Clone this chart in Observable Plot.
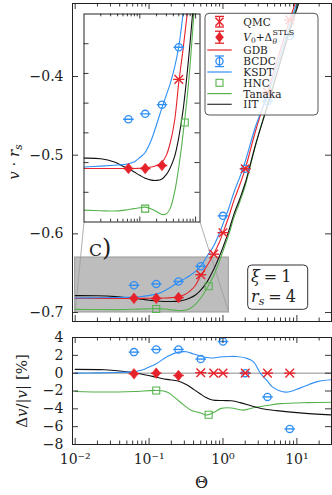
<!DOCTYPE html>
<html><head><meta charset="utf-8">
<script src="https://cdn.jsdelivr.net/npm/d3@7"></script>
<script src="https://cdn.jsdelivr.net/npm/@observablehq/plot@0.6"></script>
<style>
body{margin:0;background:#fff;}
#wrap{position:relative;width:332px;height:495px;overflow:hidden;font-family:"DejaVu Serif",serif;}
#wrap svg{position:absolute;}
</style></head><body><div id="wrap"></div>
<script>
// ---------- data ----------
const thetaGrid = [0.01,0.02,0.035,0.05,0.0625,0.08,0.1,0.125,0.16,0.2,0.25,0.3,0.35,0.42,0.5,0.6,0.75,0.9,1.0,1.2,1.4,1.7,2.0,2.8,4.0,5.6,8.0,11,16,22,32];
const gdbV    = [-0.6820,-0.6820,-0.6820,-0.6820,-0.6820,-0.6820,-0.6819,-0.6818,-0.6815,-0.6810,-0.6799,-0.6775,-0.6735,-0.6660,-0.6530,-0.6415,-0.6255,-0.6100,-0.5985,-0.5780,-0.5580,-0.5370,-0.5173,-0.4670,-0.4203,-0.3750,-0.3280,-0.2900,-0.2550,-0.2250,-0.1950];
const ksdtV   = [-0.6815,-0.6812,-0.6809,-0.6807,-0.6804,-0.6797,-0.6783,-0.6766,-0.6725,-0.6672,-0.6615,-0.6572,-0.6535,-0.6480,-0.6410,-0.6295,-0.6150,-0.5985,-0.5875,-0.5672,-0.5477,-0.5272,-0.5080,-0.4617,-0.4241,-0.3821,-0.3349,-0.2948,-0.2581,-0.2270,-0.1965];
const tanakaV = [-0.6960,-0.6962,-0.6963,-0.6961,-0.6958,-0.6955,-0.6952,-0.6950,-0.6956,-0.6965,-0.6975,-0.6972,-0.6955,-0.6900,-0.6815,-0.6700,-0.6530,-0.6340,-0.6220,-0.6005,-0.5800,-0.5585,-0.5385,-0.4852,-0.4356,-0.3880,-0.3392,-0.2997,-0.2634,-0.2323,-0.2014];
const iitV    = [-0.6785,-0.6787,-0.6798,-0.6812,-0.6820,-0.6832,-0.6843,-0.6853,-0.6859,-0.6860,-0.6855,-0.6840,-0.6818,-0.6780,-0.6715,-0.6620,-0.6450,-0.6280,-0.6170,-0.5958,-0.5756,-0.5547,-0.5354,-0.4845,-0.4373,-0.3907,-0.3421,-0.3030,-0.2667,-0.2354,-0.2041];

// relative deviations (lower panel), in %
const ksdtDevTheta = [0.01,0.02,0.035,0.05,0.0625,0.08,0.095,0.125,0.177,0.25,0.32,0.4,0.49,0.6,0.72,0.9,1.2,1.5,2.03,2.57,3.2,4.0,4.7,7.1,11.2,19,31.6];
const ksdtDev      = [0,0.03,0.08,0.12,0.15,0.35,0.6,1.05,1.88,2.36,2.4,2.15,1.95,1.75,1.7,1.82,1.87,1.87,1.7,1.3,0,-0.9,-1.57,-2.13,-1.65,-0.95,-0.72];
const iitDevTheta  = [0.01,0.025,0.04,0.0625,0.09,0.125,0.174,0.247,0.323,0.406,0.49,0.58,0.72,1.0,1.3,1.7,2.5,3.4,5.3,11,31.6];
const iitDev       = [0.42,0.38,0.25,0.04,-0.2,-0.45,-0.7,-0.88,-1.3,-1.85,-2.3,-2.7,-3.0,-3.07,-3.1,-3.3,-3.7,-4.0,-4.2,-4.45,-4.7];
const tanakaDevTheta = [0.01,0.025,0.0625,0.125,0.177,0.26,0.37,0.49,0.6,0.75,0.95,1.3,1.85,2.5,3.8,6,14,31.6];
const tanakaDev      = [-2.06,-2.12,-2.06,-1.94,-2.13,-3.2,-4.15,-4.45,-4.7,-4.4,-3.95,-3.9,-4.15,-3.9,-3.65,-3.42,-3.3,-3.26];

const qmcTheta  = [0.5,0.75,1,2,4,8];
const qmcV      = [-0.6520,-0.6258,-0.5985,-0.5173,-0.4203,-0.3280];
const qmcDev    = [0.05,0,0,0,0,0];
const stlsTheta = [0.0625,0.125,0.25];
const stlsV     = [-0.6820,-0.6820,-0.6810];
const stlsDev   = [-0.07,0,-0.26];
const bcdcTheta = [0.0625,0.125,0.25,0.5,1,2,4,8];
const bcdcV     = [-0.6654,-0.6636,-0.6605,-0.6412,-0.5771,-0.5173,-0.4316,-0.3485];
const bcdcDev   = [2.36,2.66,2.66,1.58,3.55,0,-2.66,-6.25];
const hncTheta  = [0.125,0.64];
const hncV      = [-0.6955,-0.6665];
const hncDev    = [-1.94,-4.67];

const xMajor = [0.01,0.1,1,10];
const xTickLabels = ["10⁻²","10⁻¹","10⁰","10¹"];
const mainYTicks = [-0.7,-0.6,-0.5,-0.4];
const mainYLabels = ["−0.7","−0.6","−0.5","−0.4"];
const lowerYTicks = [-8,-6,-4,-2,0,2,4];
const lowerYLabels = ["−8","−6","−4","−2","0","2","4"];
const insetYTicks = [-0.69,-0.68,-0.67,-0.66,-0.65,-0.64];
const legendNames = ["QMC","V0+Δ","GDB","BCDC","KSDT","HNC","Tanaka","IIT"];

// ---------- layout / style ----------
const font = "DejaVu Serif";
const red = "#e6222a", blue = "#2f8ff5", green = "#55b24c", black = "#111", axisC = "#222";
const xDomain = [0.0092, 29.4];
const mainYDomain = [-0.7114, -0.3072];
const insetX = [0.01, 1.2];
const insetY = [-0.700, -0.630];
const inset = {left: 83, top: 13, width: 117, height: 209, m: 0.5};

const rows = (ts, vs, ds) => ts.map((t, i) => ({t, v: vs[i], d: ds ? ds[i] : null}));
const gdbRows = rows(thetaGrid, gdbV), ksdtRows = rows(thetaGrid, ksdtV),
      tanakaRows = rows(thetaGrid, tanakaV), iitRows = rows(thetaGrid, iitV);
const ksdtDevRows = rows(ksdtDevTheta, ksdtDev), iitDevRows = rows(iitDevTheta, iitDev),
      tanakaDevRows = rows(tanakaDevTheta, tanakaDev);
const qmcRows = rows(qmcTheta, qmcV, qmcDev), stlsRows = rows(stlsTheta, stlsV, stlsDev),
      bcdcRows = rows(bcdcTheta, bcdcV, bcdcDev), hncRows = rows(hncTheta, hncV, hncDev);

// custom symbols (size = pi r^2)
const R = s => Math.sqrt(s / Math.PI);
const hbar = {draw(c, s){const r = R(s); c.moveTo(-r, 0); c.lineTo(r, 0);}};
const xmark = {draw(c, s){const r = R(s); c.moveTo(-r, -r); c.lineTo(r, r); c.moveTo(-r, r); c.lineTo(r, -r);}};
const diam = {draw(c, s){const r = R(s); c.moveTo(0, -r); c.lineTo(0.8*r, 0); c.lineTo(0, r); c.lineTo(-0.8*r, 0); c.closePath();}};
const sq = {draw(c, s){const r = R(s); c.rect(-r, -r, 2*r, 2*r);}};

const minorX = (lo, hi) => [0.001,0.01,0.1,1,10].flatMap(b => [2,3,4,5,6,7,8,9].map(m => +(b*m).toPrecision(3))).filter(v => v > lo && v < hi);
const majorIn = (lo, hi) => [0.001,0.01,0.1,1,10,100].filter(v => v >= lo && v <= hi);

function frameTicks(xMaj, xMin, yMaj, fw, fh, L) {
  const st = {stroke: axisC, strokeWidth: 0.9};
  return [
    Plot.tickX(xMaj, {x: d => d, insetTop: fh - L.xMaj, ...st}),
    Plot.tickX(xMaj, {x: d => d, insetBottom: fh - L.xMaj, ...st}),
    Plot.tickX(xMin, {x: d => d, insetTop: fh - L.xMin, ...st}),
    Plot.tickX(xMin, {x: d => d, insetBottom: fh - L.xMin, ...st}),
    Plot.tickY(yMaj, {y: d => d, insetRight: fw - L.y, ...st}),
    Plot.tickY(yMaj, {y: d => d, insetLeft: fw - L.y, ...st})
  ];
}
const lineOpts = c => ({x: "t", y: "v", stroke: c, strokeWidth: 1.1, curve: "catmull-rom", clip: true});
function pointMarks(yk) {
  return [
    Plot.dot(hncRows, {x: "t", y: yk, symbol: sq, r: 3.5, stroke: green, fill: "none", strokeWidth: 1.1, clip: true}),
    Plot.dot(bcdcRows, {x: "t", y: yk, symbol: "circle", r: 3.6, stroke: blue, fill: "none", strokeWidth: 1.3, clip: true}),
    Plot.dot(bcdcRows, {x: "t", y: yk, symbol: hbar, r: 5.3, stroke: blue, strokeWidth: 1.4, clip: true}),
    Plot.dot(stlsRows, {x: "t", y: yk, symbol: diam, r: 5.3, fill: red, stroke: red, strokeWidth: 0.6, clip: true}),
    Plot.dot(stlsRows, {x: "t", y: yk, symbol: hbar, r: 5.3, stroke: red, strokeWidth: 1.4, clip: true}),
    Plot.dot(qmcRows, {x: "t", y: yk, symbol: xmark, r: 4.3, stroke: red, strokeWidth: 1.4, clip: true}),
    Plot.dot(qmcRows, {x: "t", y: yk, symbol: hbar, r: 5.5, stroke: red, strokeWidth: 1.4, clip: true})
  ];
}
const baseStyle = {fontFamily: font, fontSize: "14px", color: axisC, background: "transparent", overflow: "visible"};
const wrap = document.getElementById("wrap");

// ---------- main panel ----------
const M = {width: 332, height: 330, left: 72, right: 1, top: 3, bottom: 9};
const mfw = M.width - M.left - M.right, mfh = M.height - M.top - M.bottom;
const mxs = Plot.scale({x: {type: "log", domain: xDomain, range: [M.left, M.width - M.right]}});
const mys = Plot.scale({y: {type: "linear", domain: mainYDomain, range: [M.height - M.bottom, M.top]}});
const iL = inset.left + inset.m, iR = inset.left + inset.width - inset.m, iB = inset.top + inset.height - inset.m;
const connectors = [
  {x1: insetX[0], y1: insetY[0], x2: mxs.invert(iL), y2: mys.invert(iB)},
  {x1: insetX[1], y1: insetY[0], x2: mxs.invert(iR), y2: mys.invert(iB)}
];
const main = Plot.plot({
  width: M.width, height: M.height, marginLeft: M.left, marginRight: M.right, marginTop: M.top, marginBottom: M.bottom,
  style: baseStyle,
  x: {type: "log", domain: xDomain, axis: null, label: null},
  y: {domain: mainYDomain, label: null},
  marks: [
    Plot.rect([0], {x1: () => insetX[0], x2: () => insetX[1], y1: () => insetY[0], y2: () => insetY[1], fill: "#bdbdbd", stroke: "#8a8a8a", strokeWidth: 0.8}),
    Plot.link(connectors, {x1: "x1", y1: "y1", x2: "x2", y2: "y2", stroke: "#9a9a9a", strokeWidth: 0.8}),
    Plot.line(tanakaRows, lineOpts(green)),
    Plot.line(iitRows, lineOpts(black)),
    Plot.line(gdbRows, lineOpts(red)),
    Plot.line(ksdtRows, lineOpts(blue)),
    ...pointMarks("v"),
    ...frameTicks(majorIn(xDomain[0], xDomain[1]), minorX(xDomain[0], xDomain[1]), mainYTicks, mfw, mfh, {xMaj: 6, xMin: 3.5, y: 6}),
    Plot.frame({stroke: axisC, strokeWidth: 1}),
    Plot.axisY({ticks: mainYTicks, tickSize: 0, tickPadding: 9, label: null, tickFormat: d => mainYLabels[mainYTicks.indexOf(d)]})
  ]
});
main.style.left = "0px"; main.style.top = "0px";
wrap.appendChild(main);

// ---------- inset ----------
const ifw = inset.width - 2*inset.m, ifh = inset.height - 2*inset.m;
const ins = Plot.plot({
  width: inset.width, height: inset.height, marginLeft: inset.m, marginRight: inset.m, marginTop: inset.m, marginBottom: inset.m,
  style: {...baseStyle, background: "white"},
  x: {type: "log", domain: insetX, axis: null, label: null},
  y: {domain: insetY, axis: null, label: null},
  marks: [
    Plot.line(tanakaRows, lineOpts(green)),
    Plot.line(iitRows, lineOpts(black)),
    Plot.line(gdbRows, lineOpts(red)),
    Plot.line(ksdtRows, lineOpts(blue)),
    ...pointMarks("v"),
    ...frameTicks(majorIn(insetX[0]*1.01, insetX[1]), minorX(insetX[0], insetX[1]), insetYTicks, ifw, ifh, {xMaj: 5, xMin: 2.8, y: 5}),
    Plot.frame({stroke: axisC, strokeWidth: 1})
  ]
});
ins.style.left = inset.left + "px"; ins.style.top = inset.top + "px";
wrap.appendChild(ins);

// ---------- lower panel ----------
const Lw = {width: 332, height: 165, left: 72, right: 1, top: 7, bottom: 51, y0: 330};
const lfw = Lw.width - Lw.left - Lw.right, lfh = Lw.height - Lw.top - Lw.bottom;
const lower = Plot.plot({
  width: Lw.width, height: Lw.height, marginLeft: Lw.left, marginRight: Lw.right, marginTop: Lw.top, marginBottom: Lw.bottom,
  style: baseStyle,
  x: {type: "log", domain: xDomain, label: null},
  y: {domain: [-8, 4], label: null},
  marks: [
    Plot.ruleY([0], {stroke: "#8c8c8c", strokeWidth: 1}),
    Plot.line(tanakaDevRows, lineOpts(green)),
    Plot.line(iitDevRows, lineOpts(black)),
    Plot.line(ksdtDevRows, lineOpts(blue)),
    ...pointMarks("d"),
    ...frameTicks(majorIn(xDomain[0], xDomain[1]), minorX(xDomain[0], xDomain[1]), lowerYTicks, lfw, lfh, {xMaj: 6, xMin: 3.5, y: 6}),
    Plot.frame({stroke: axisC, strokeWidth: 1}),
    Plot.axisY({ticks: lowerYTicks, tickSize: 0, tickPadding: 9, label: null, tickFormat: d => lowerYLabels[lowerYTicks.indexOf(d)]}),
    Plot.axisX({ticks: xMajor, tickSize: 0, tickPadding: 10, label: null, tickFormat: d => xTickLabels[xMajor.indexOf(d)]})
  ]
});
lower.style.left = "0px"; lower.style.top = Lw.y0 + "px";
wrap.appendChild(lower);

// ---------- overlay: labels, annotations, legend ----------
const ov = d3.select(wrap).append("svg").attr("width", 332).attr("height", 495)
  .style("left", "0px").style("top", "0px").style("font-family", font).style("overflow", "visible").attr("fill", axisC);

ov.append("text").attr("transform", "translate(19,162) rotate(-90)").attr("text-anchor", "middle").attr("font-size", 15)
  .html('<tspan font-style="italic">v</tspan> · <tspan font-style="italic">r</tspan><tspan font-style="italic" font-size="10.5" dy="3">s</tspan>');
ov.append("text").attr("transform", "translate(27,391) rotate(-90)").attr("text-anchor", "middle").attr("font-size", 15)
  .html('Δ<tspan font-style="italic">v</tspan>/|<tspan font-style="italic">v</tspan>| [%]');
ov.append("text").attr("x", 201.5).attr("y", 488).attr("text-anchor", "middle").attr("font-size", 16).text("Θ");

ov.append("text").attr("x", 89).attr("y", 256).attr("font-size", 24).style("font-variant", "small-caps").text("c)");

// xi / rs box
ov.append("rect").attr("x", 247.7).attr("y", 265).attr("width", 60).attr("height", 44.3).attr("rx", 4)
  .attr("fill", "white").attr("stroke", "#333").attr("stroke-width", 1);
ov.append("text").attr("x", 251).attr("y", 282).attr("font-size", 16)
  .html('<tspan font-style="italic">ξ</tspan><tspan dx="4">=</tspan><tspan dx="4">1</tspan>');
ov.append("text").attr("x", 251).attr("y", 301.5).attr("font-size", 16)
  .html('<tspan font-style="italic">r</tspan><tspan font-style="italic" font-size="11" dy="3">s</tspan><tspan dy="-3" dx="4">=</tspan><tspan dx="4">4</tspan>');

// legend
const lg = ov.append("g");
lg.append("rect").attr("x", 205).attr("y", 13.3).attr("width", 113).attr("height", 101.7).attr("rx", 4)
  .attr("fill", "white").attr("fill-opacity", 0.82).attr("stroke", "#555").attr("stroke-width", 1);
const sx = 219.5, tx = 243.3;
const base = [26.3, 40.7, 54, 65.3, 76, 86.8, 97.6, 108.3];
function errbar(g, cy, color, h) {
  g.append("line").attr("x1", sx).attr("x2", sx).attr("y1", cy - h).attr("y2", cy + h).attr("stroke", color).attr("stroke-width", 1.3);
  [cy - h, cy + h].forEach(y => g.append("line").attr("x1", sx - 4.5).attr("x2", sx + 4.5).attr("y1", y).attr("y2", y).attr("stroke", color).attr("stroke-width", 1.3));
}
// QMC
let cy = base[0] - 4.6;
errbar(lg, cy, red, 5.3);
lg.append("path").attr("d", `M${sx-4},${cy-4}L${sx+4},${cy+4}M${sx-4},${cy+4}L${sx+4},${cy-4}`).attr("stroke", red).attr("stroke-width", 1.5);
// V0 + Delta
cy = base[1] - 3.5;
errbar(lg, cy, red, 6);
lg.append("path").attr("d", `M${sx},${cy-5.3}L${sx+4.3},${cy}L${sx},${cy+5.3}L${sx-4.3},${cy}Z`).attr("fill", red);
// lines
const lline = (y, c) => lg.append("line").attr("x1", 207.3).attr("x2", 231.7).attr("y1", y).attr("y2", y).attr("stroke", c).attr("stroke-width", 1.2);
lline(base[2] - 4, red);
// BCDC
cy = base[3] - 4;
errbar(lg, cy, blue, 5.3);
lg.append("circle").attr("cx", sx).attr("cy", cy).attr("r", 3.6).attr("fill", "none").attr("stroke", blue).attr("stroke-width", 1.3);
lline(base[4] - 4, blue);
lg.append("rect").attr("x", sx - 3.5).attr("y", base[5] - 4 - 3.5).attr("width", 7).attr("height", 7).attr("fill", "none").attr("stroke", green).attr("stroke-width", 1.1);
lline(base[6] - 4, green);
lline(base[7] - 4, "#333");

const lt = (i, html) => lg.append("text").attr("x", tx).attr("y", base[i]).attr("font-size", 10.5).html(html);
lt(0, legendNames[0]);
const v0 = lt(1, '<tspan font-style="italic">V</tspan><tspan font-size="7.5" dy="2.5">0</tspan><tspan dy="-2.5">+Δ</tspan>');
const w0 = v0.node().getComputedTextLength();
lg.append("text").attr("x", tx + w0 + 0.5).attr("y", base[1] + 3).attr("font-size", 7.5).attr("font-style", "italic").text("θ");
lg.append("text").attr("x", tx + w0 + 0.5).attr("y", base[1] - 6).attr("font-size", 8).text("STLS");
[2,3,4,5,6,7].forEach(i => lt(i, legendNames[i]));
</script></body></html>
